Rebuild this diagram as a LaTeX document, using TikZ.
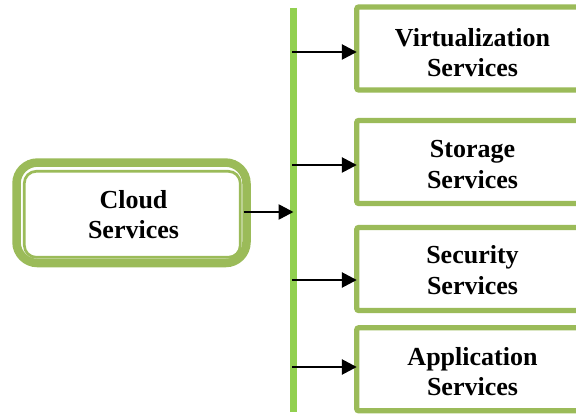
\documentclass[tikz,border=0pt]{standalone}
\usepackage{fontspec}
\setmainfont{Liberation Serif}
\usetikzlibrary{arrows.meta}
\definecolor{olive}{HTML}{9BBB59}
\definecolor{barGreen}{HTML}{92D050}
\tikzset{
  svcbox/.style={draw=olive, line width=5.3pt, fill=white, rounded corners=2pt,
    minimum width=243pt, minimum height=83pt, outer sep=0pt, inner sep=0pt},
  label/.style={align=center, inner sep=0pt,
    font=\bfseries\fontsize{26}{30.5}\selectfont},
  feed/.style={draw=black, line width=2.6pt, -{Triangle[length=15pt,width=15pt]}},
  hub/.style={draw=barGreen, line width=7pt}
}
\begin{document}
\begin{tikzpicture}[x=1pt,y=-1pt]
  \useasboundingbox (0,0) rectangle (576,414);
  \clip (0,0) rectangle (576,414);
  \fill[white] (0,0) rectangle (576,414);

  % vertical distribution bar
  \coordinate (top) at (293,8);
  \coordinate (bottom) at (293,412);
  \draw[hub] (top) -- (bottom);

  % source node with double border
  \node[draw=olive, line width=8.5pt, rounded corners=21pt, fill=white,
        minimum width=230pt, minimum height=100.5pt, inner sep=0pt, outer sep=0pt]
        (cloud) at (131.5,212.8) {};
  \node[draw=olive, line width=2.7pt, rounded corners=12pt,
        minimum width=216pt, minimum height=86pt, inner sep=0pt, outer sep=0pt]
        (cloudin) at (132.3,214.3) {};
  \node[label] (cloudtxt) at (133.5,214.5) {Cloud\\Services};

  % service boxes
  \node[svcbox] (virt) at (478.3,48.5) {};
  \node[svcbox] (stor) at (478.3,162) {};
  \node[svcbox] (sec)  at (478.3,269) {};
  \node[svcbox] (app)  at (478.3,369.3) {};

  \node[label] (virtt) at (472.5,52.5) {Virtualization\\Services};
  \node[label] (stort) at (472.5,164.7) {Storage\\Services};
  \node[label] (sect)  at (472.5,270) {Security\\Services};
  \node[label] (appt)  at (472.5,371.5) {Application\\Services};

  % connectors
  \coordinate (in) at (293.5,212);
  \draw[feed] ([xshift=-3pt]in -| cloud.east) -- (in);

  \coordinate (b1) at (292,52);
  \coordinate (b2) at (292,165);
  \coordinate (b3) at (292,280);
  \coordinate (b4) at (292,367);
  \draw[feed] (b1) -- (b1 -| virt.west);
  \draw[feed] (b2) -- (b2 -| stor.west);
  \draw[feed] (b3) -- (b3 -| sec.west);
  \draw[feed] (b4) -- (b4 -| app.west);
\end{tikzpicture}
\end{document}
